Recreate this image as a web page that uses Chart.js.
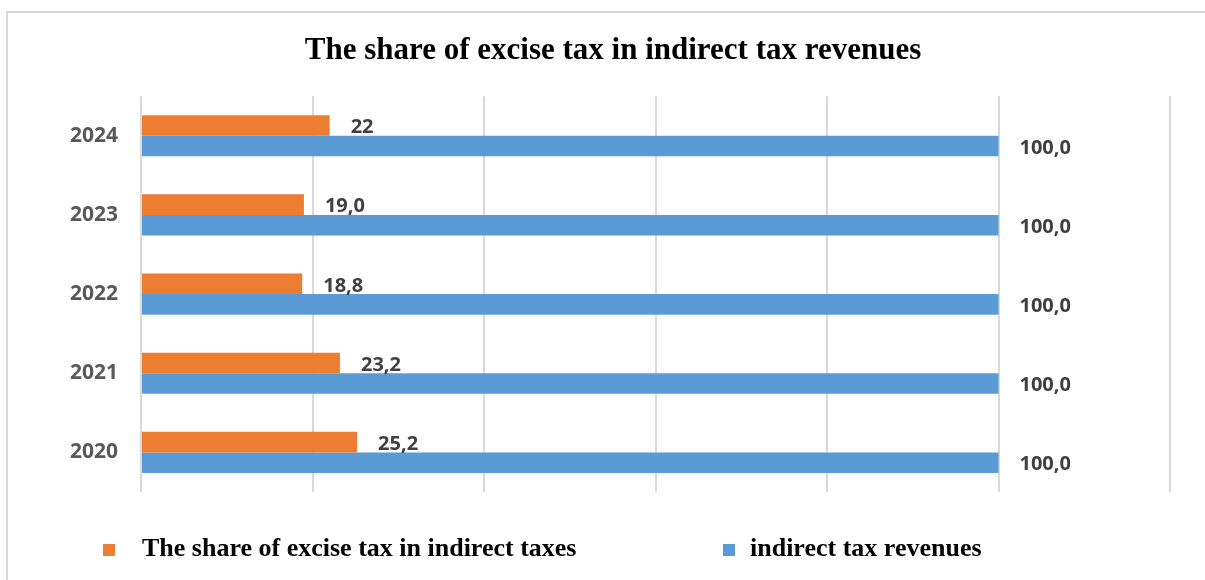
<!DOCTYPE html>
<html lang="en">
<head>
    <meta charset="UTF-8">
    <meta name="viewport" content="width=device-width, initial-scale=1.0">
    <title>The share of excise tax in indirect tax revenues</title>
    <script src="https://cdn.jsdelivr.net/npm/chart.js"></script>
    <style>
        html, body {
            margin: 0;
            padding: 0;
            background: #fff;
            overflow: hidden;
        }
        .frame {
            position: absolute;
            left: 6px;
            top: 11px;
            width: 1210px;
            height: 600px;
            border-top: 2px solid #d9d9d9;
            border-left: 2px solid #d9d9d9;
        }
        .chart-container {
            position: absolute;
            left: 0;
            top: 0;
            width: 1205px;
            height: 580px;
        }
    </style>
</head>
<body>
    <div class="frame"></div>
    <div class="chart-container">
        <canvas id="exciseChart"></canvas>
    </div>

    <script>
    // data
    const years = ['2024', '2023', '2022', '2021', '2020'];
    const exciseShare = [22, 19.0, 18.8, 23.2, 25.2];
    const exciseShareText = ['22', '19,0', '18,8', '23,2', '25,2'];
    const indirectRevenue = [100, 100, 100, 100, 100];
    const indirectRevenueText = ['100,0', '100,0', '100,0', '100,0', '100,0'];
    const axisMax = 120;
    const axisStep = 20;

    // legend placement (box x, text x) for each series
    const legendBoxX = [103, 723];
    const legendTextX = [142, 750];

    const valueLabels = {
        id: 'valueLabels',
        afterDatasetsDraw(chart) {
            const ctx = chart.ctx;
            ctx.save();
            ctx.font = 'bold 20px "Open Sans"';
            ctx.fillStyle = '#404040';
            ctx.textAlign = 'left';
            ctx.textBaseline = 'middle';
            chart.data.datasets.forEach((ds, i) => {
                chart.getDatasetMeta(i).data.forEach((bar, j) => {
                    ctx.fillText(ds.valueText[j], bar.x + 21, bar.y + 2);
                });
            });
            ctx.restore();
        }
    };

    const bottomLegend = {
        id: 'bottomLegend',
        afterDraw(chart) {
            const ctx = chart.ctx;
            ctx.save();
            ctx.font = 'bold 26px "Liberation Serif"';
            ctx.textAlign = 'left';
            ctx.textBaseline = 'alphabetic';
            chart.data.datasets.forEach((ds, i) => {
                ctx.fillStyle = ds.backgroundColor;
                ctx.fillRect(legendBoxX[i], 544, 12, 12);
                ctx.fillStyle = '#000';
                ctx.fillText(ds.label, legendTextX[i], 556);
            });
            ctx.restore();
        }
    };

    document.addEventListener('DOMContentLoaded', function() {
        const elem = document.getElementById('exciseChart');
        new Chart(elem, {
            type: 'bar',
            data: {
                labels: years,
                datasets: [
                    {
                        label: 'The share of excise tax in indirect taxes',
                        data: exciseShare,
                        valueText: exciseShareText,
                        backgroundColor: '#ED7D31',
                        categoryPercentage: 0.52,
                        barPercentage: 1
                    },
                    {
                        label: 'indirect tax revenues',
                        data: indirectRevenue,
                        valueText: indirectRevenueText,
                        backgroundColor: '#5B9BD5',
                        categoryPercentage: 0.52,
                        barPercentage: 1
                    }
                ]
            },
            options: {
                indexAxis: 'y',
                responsive: true,
                maintainAspectRatio: false,
                animation: false,
                layout: {
                    padding: { left: 56, right: 35, top: 0, bottom: 88 }
                },
                plugins: {
                    legend: { display: false },
                    tooltip: { enabled: false },
                    title: {
                        display: true,
                        text: 'The share of excise tax in indirect tax revenues',
                        color: '#000',
                        font: {
                            family: '"Liberation Serif"',
                            size: 31,
                            weight: 'bold'
                        },
                        padding: { top: 32, bottom: 27 }
                    }
                },
                scales: {
                    x: {
                        min: 0,
                        max: axisMax,
                        afterFit: s => { s.height = 0; },
                        border: { display: false },
                        grid: {
                            color: '#d9d9d9',
                            lineWidth: 2,
                            drawTicks: false
                        },
                        ticks: {
                            stepSize: axisStep,
                            display: false
                        }
                    },
                    y: {
                        afterFit: s => { s.width = 85; },
                        border: { display: false },
                        grid: { display: false, drawTicks: false },
                        ticks: {
                            color: '#595959',
                            padding: 23,
                            font: {
                                family: '"Open Sans"',
                                size: 21,
                                weight: 'bold'
                            }
                        }
                    }
                }
            },
            plugins: [valueLabels, bottomLegend]
        });
    });
    </script>
</body>
</html>
